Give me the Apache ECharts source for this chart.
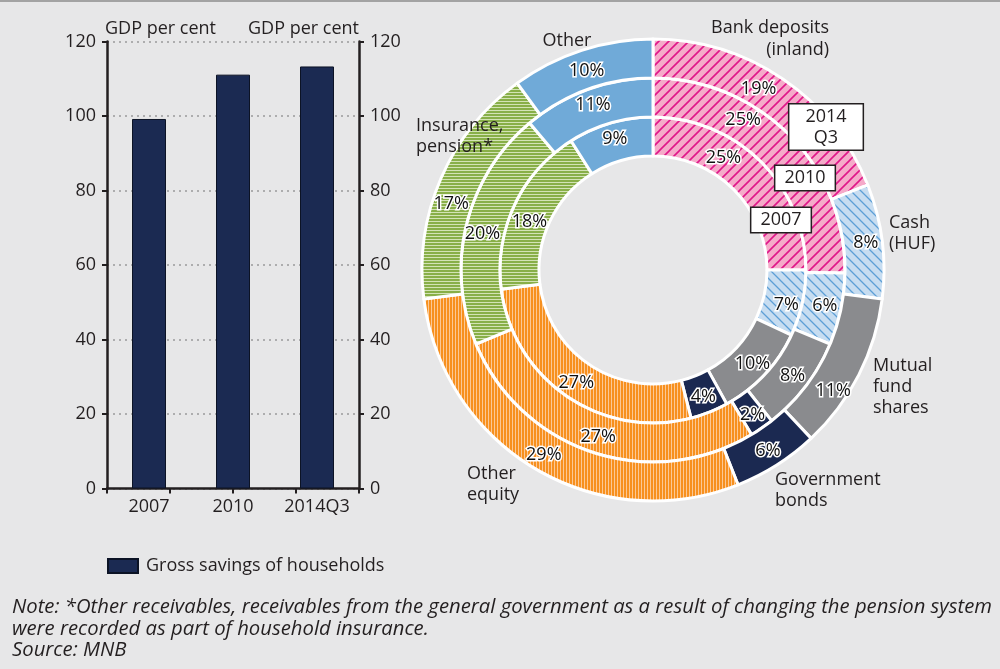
<!DOCTYPE html>
<html>
<head>
<meta charset="utf-8">
<title>Household savings and portfolio</title>
<script src="https://cdn.jsdelivr.net/npm/echarts@6.0.0/dist/echarts.min.js"></script>
<style>
    html, body { margin: 0; padding: 0; background: #e7e7e8; }
    #chart { width: 1000px; height: 669px; }
</style>
</head>
<body>
<div id="chart"></div>
<script>
// bar chart data
var barCategories = ['2007', '2010', '2014Q3'];
var grossSavings = [99.2, 111.1, 113.3];

// portfolio rings, clockwise from 12 o'clock
var assetNames = ['Bank deposits (inland)', 'Cash (HUF)', 'Mutual fund shares', 'Government bonds',
    'Other equity', 'Insurance, pension*', 'Other'];
var share2007 = [25, 7, 10, 4, 27, 18, 9];
var share2010 = [25, 6, 8, 2, 27, 20, 11];
var share2014Q3 = [19, 8, 11, 6, 29, 17, 10];

var FONT = "'Open Sans', sans-serif";
var INK = '#231f20';

// hatch patterns
function hatch(size, bg, line, width, dir) {
    var c = document.createElement('canvas');
    c.width = size; c.height = size;
    var g = c.getContext('2d');
    g.fillStyle = bg;
    g.fillRect(0, 0, size, size);
    g.strokeStyle = line;
    g.lineWidth = width;
    g.beginPath();
    if (dir === '/') {
        g.moveTo(-1, size + 1); g.lineTo(size + 1, -1);
        g.moveTo(-1, 1); g.lineTo(1, -1);
        g.moveTo(size - 1, size + 1); g.lineTo(size + 1, size - 1);
    } else {
        g.moveTo(-1, -1); g.lineTo(size + 1, size + 1);
        g.moveTo(size - 1, -1); g.lineTo(size + 1, 1);
        g.moveTo(-1, size - 1); g.lineTo(1, size + 1);
    }
    g.stroke();
    return c;
}

function stripes(bg, light, vertical) {
    var c = document.createElement('canvas');
    c.width = vertical ? 3 : 1;
    c.height = vertical ? 1 : 3;
    var g = c.getContext('2d');
    g.fillStyle = bg;
    g.fillRect(0, 0, c.width, c.height);
    g.fillStyle = light;
    if (vertical) g.fillRect(2, 0, 1, 1); else g.fillRect(0, 2, 1, 1);
    return c;
}

var sliceColors = [
    { image: hatch(10, '#f5aac9', '#e0178a', 1.6, '/'), repeat: 'repeat' },
    { image: hatch(10, '#c7ddf1', '#5c9fd6', 1.3, '\\'), repeat: 'repeat' },
    '#8a8b8e',
    '#1b2951',
    { image: stripes('#f7901e', '#fcc894', true), repeat: 'repeat' },
    { image: stripes('#88af48', '#d3e3b5', false), repeat: 'repeat' },
    '#70aad8'
];

// hand placed label shifts (px), like in the original
var nudge2007 = { 0: [-26, -16], 1: [0, 5], 5: [0, 10] };
var nudge2010 = { 0: [-35, -27], 5: [0, 5] };
var nudge2014 = { 0: [-15, -4], 2: [-11, 23], 5: [-5, 19], 6: [0, 5] };

function ringData(values) {
    return values.map(function(v, i) {
        return { name: assetNames[i], value: v, itemStyle: { color: sliceColors[i] } };
    });
}

function ring(name, values, radius, nudge) {
    return {
        name: name,
        type: 'pie',
        center: [653, 270],
        radius: radius,
        startAngle: 90,
        clockwise: true,
        silent: true,
        itemStyle: { borderColor: '#fff', borderWidth: 3 },
        label: {
            show: true,
            position: 'inside',
            formatter: '{c}%',
            fontFamily: FONT,
            fontSize: 18,
            color: '#111',
            textBorderColor: '#fff',
            textBorderWidth: 3
        },
        labelLayout: function(params) {
            var n = nudge[params.dataIndex];
            return n ? { dx: n[0], dy: n[1] } : {};
        },
        labelLine: { show: false },
        data: ringData(values)
    };
}

function note(text, x, y, opts) {
    return {
        type: 'text',
        x: x, y: y,
        z: 100,
        style: Object.assign({
            text: text,
            fill: INK,
            font: "18px 'Open Sans', sans-serif",
            verticalAlign: 'middle',
            lineHeight: 21
        }, opts || {})
    };
}

function yearBox(text, x, y, padX) {
    return {
        type: 'text',
        x: x, y: y,
        z: 100,
        style: {
            text: text,
            fill: INK,
            font: "18px 'Open Sans', sans-serif",
            align: 'center',
            verticalAlign: 'middle',
            lineHeight: 21,
            backgroundColor: '#fff',
            borderColor: INK,
            borderWidth: 1.5,
            padding: [2, padX, 1, padX]
        }
    };
}

var chart = echarts.init(document.getElementById('chart'), null, { renderer: 'canvas' });

chart.setOption({
    animation: false,
    backgroundColor: '#e7e7e8',
    textStyle: { fontFamily: FONT },
    grid: { left: 107, right: 641, top: 41.5, bottom: 180.5 },
    legend: {
        data: ['Gross savings of households'],
        left: 107,
        top: 557,
        padding: 0,
        orient: 'horizontal',
        icon: 'rect',
        itemWidth: 30,
        itemHeight: 14,
        textStyle: { fontFamily: FONT, fontSize: 18, color: INK, padding: [0, 0, 0, 3] }
    },
    xAxis: [{
        type: 'category',
        data: barCategories,
        axisLine: { lineStyle: { color: INK, width: 2.5 } },
        axisTick: { show: false },
        axisLabel: { interval: 0, hideOverlap: false, fontFamily: FONT, fontSize: 18, color: INK, margin: 9 }
    }, {
        // tick marks under the bars
        type: 'value',
        position: 'bottom',
        min: 0, max: 4, interval: 1,
        axisLine: { show: false },
        axisTick: { show: true, length: 5, lineStyle: { color: INK, width: 2 } },
        axisLabel: { show: false },
        splitLine: { show: false }
    }],
    yAxis: [{
        type: 'value',
        position: 'left',
        min: 0, max: 120, interval: 20,
        name: 'GDP per cent',
        nameLocation: 'end',
        nameGap: 4,
        nameTextStyle: { fontFamily: FONT, fontSize: 18, color: INK, align: 'left', verticalAlign: 'bottom', padding: [0, 0, 0, -2] },
        axisLine: { show: true, lineStyle: { color: INK, width: 2.5 } },
        axisTick: { show: true, length: 5, lineStyle: { color: INK, width: 2 } },
        axisLabel: { fontFamily: FONT, fontSize: 18, color: INK, margin: 11 },
        splitLine: { show: true, lineStyle: { color: '#9a9a9a', width: 1.5, type: [2, 4] } }
    }, {
        type: 'value',
        position: 'right',
        min: 0, max: 120, interval: 20,
        name: 'GDP per cent',
        nameLocation: 'end',
        nameGap: 4,
        nameTextStyle: { fontFamily: FONT, fontSize: 18, color: INK, align: 'right', verticalAlign: 'bottom' },
        axisLine: { show: true, lineStyle: { color: INK, width: 2.5 } },
        axisTick: { show: true, length: 5, lineStyle: { color: INK, width: 2 } },
        axisLabel: { fontFamily: FONT, fontSize: 18, color: INK, margin: 11 },
        splitLine: { show: false }
    }],
    series: [{
        name: 'Gross savings of households',
        type: 'bar',
        xAxisIndex: 0,
        yAxisIndex: 0,
        barWidth: 34,
        itemStyle: { color: '#1b2a52', borderColor: '#0c1325', borderWidth: 1 },
        data: grossSavings
    },
        ring('2007', share2007, [114, 153], nudge2007),
        ring('2010', share2010, [153, 192], nudge2010),
        ring('2014Q3', share2014Q3, [192, 231], nudge2014)
    ],
    graphic: [
        { type: 'rect', z: 100, shape: { x: 0, y: 0, width: 1000, height: 2 }, style: { fill: '#a3a3a3' } },
        // segment names
        note('Other', 567, 41, { align: 'center' }),
        note('Bank deposits\n(inland)', 829, 39, { align: 'right', lineHeight: 22 }),
        note('Insurance,\npension*', 416, 136),
        note('Cash\n(HUF)', 889, 233),
        note('Mutual\nfund\nshares', 873, 387),
        note('Government\nbonds', 775, 490),
        note('Other\nequity', 467, 484),
        // ring years
        yearBox('2014\nQ3', 826, 127, 16),
        yearBox('2010', 805, 178, 9),
        yearBox('2007', 781, 220, 9),
        // footnote
        note('Note: *Other receivables, receivables from the general government as a result of changing the pension system\nwere recorded as part of household insurance.\nSource: MNB', 12, 629, {
            font: "italic 20.3px 'Open Sans', sans-serif",
            lineHeight: 21.5
        })
    ]
});
</script>
</body>
</html>
